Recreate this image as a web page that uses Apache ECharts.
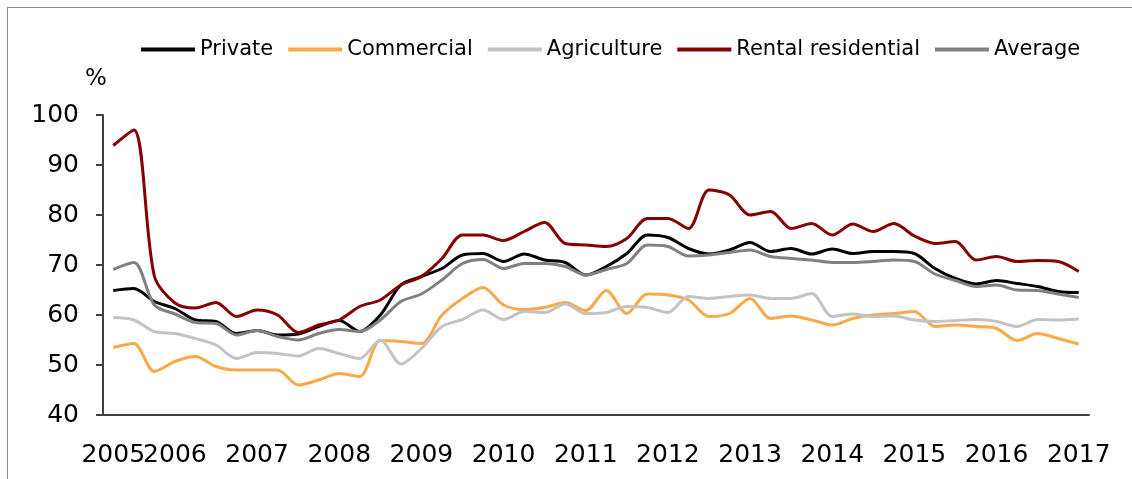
<!DOCTYPE html>
<html>
<head>
<meta charset="utf-8">
<script src="https://cdn.jsdelivr.net/npm/echarts@6/dist/echarts.min.js"></script>
<style>
html, body { margin: 0; padding: 0; background: #fff; overflow: hidden; width: 1132px; height: 479px; }
.frame {
    position: absolute; left: 7px; top: 7px; width: 1130px; height: 480px;
    border-left: 1px solid #8c8c8c; border-top: 1px solid #8c8c8c;
}
#chart { position: absolute; left: 0; top: 0; width: 1132px; height: 479px; }
</style>
</head>
<body>
<div class="frame"></div>
<div id="chart"></div>
<script>
// quarterly, 2005Q2 .. 2017Q1
const categories = [
    '2005Q2','2005Q3','2005Q4',
    '2006Q1','2006Q2','2006Q3','2006Q4',
    '2007Q1','2007Q2','2007Q3','2007Q4',
    '2008Q1','2008Q2','2008Q3','2008Q4',
    '2009Q1','2009Q2','2009Q3','2009Q4',
    '2010Q1','2010Q2','2010Q3','2010Q4',
    '2011Q1','2011Q2','2011Q3','2011Q4',
    '2012Q1','2012Q2','2012Q3','2012Q4',
    '2013Q1','2013Q2','2013Q3','2013Q4',
    '2014Q1','2014Q2','2014Q3','2014Q4',
    '2015Q1','2015Q2','2015Q3','2015Q4',
    '2016Q1','2016Q2','2016Q3','2016Q4',
    '2017Q1'
];

const privateVals = [64.9,65.3,62.7,61.3,59.0,58.7,56.3,56.9,56.0,56.2,57.7,58.9,56.7,60.0,66.0,67.7,
    69.3,72.0,72.3,70.7,72.2,71.0,70.5,68.0,69.7,72.3,76.0,75.5,73.3,72.2,73.0,74.5,
    72.7,73.3,72.2,73.2,72.3,72.7,72.7,72.3,69.3,67.3,66.2,66.9,66.3,65.7,64.7,64.5];
const commercialVals = [53.5,54.3,48.7,50.7,51.7,49.7,49.0,49.0,49.0,46.0,47.0,48.3,47.7,54.9,54.7,54.3,
    60.0,63.3,65.5,62.0,61.1,61.5,62.5,60.9,64.9,60.3,64.2,64.0,63.0,59.7,60.3,63.3,
    59.3,59.8,59.0,58.0,59.3,60.0,60.3,60.7,57.7,58.0,57.7,57.3,54.9,56.3,55.3,54.2];
const agricultureVals = [59.5,59.0,56.7,56.3,55.3,54.0,51.3,52.5,52.3,51.8,53.3,52.3,51.3,55.0,50.2,53.3,
    57.7,59.1,61.0,59.1,60.7,60.5,62.2,60.3,60.5,61.7,61.5,60.5,63.7,63.3,63.7,64.0,
    63.3,63.3,64.3,59.7,60.2,59.7,59.8,59.0,58.7,58.9,59.1,58.7,57.7,59.1,59.0,59.2];
const rentalVals = [93.9,97.0,67.8,62.4,61.4,62.5,59.7,61.0,60.0,56.5,58.0,59.0,61.7,63.0,66.0,67.7,
    71.3,76.0,76.0,74.9,76.7,78.5,74.3,74.0,73.7,75.3,79.3,79.3,77.3,85.0,84.0,80.0,
    80.7,77.3,78.3,76.0,78.2,76.7,78.3,75.8,74.3,74.7,71.0,71.7,70.7,70.9,70.7,68.7];
const averageVals = [69.1,70.5,62.0,60.2,58.5,58.3,56.0,56.9,55.7,55.0,56.3,57.1,56.7,59.0,62.7,64.2,
    67.0,70.3,71.1,69.3,70.3,70.3,69.7,68.0,69.1,70.3,74.0,73.7,71.8,72.0,72.5,73.0,
    71.7,71.3,71.0,70.5,70.5,70.7,71.0,70.7,68.2,66.9,65.7,66.0,65.0,64.9,64.2,63.5];

const seriesNames = ['Private', 'Commercial', 'Agriculture', 'Rental residential', 'Average'];
const seriesColors = ['#000000', '#f9a94a', '#c3c3c3', '#850000', '#808080'];
const seriesData = [privateVals, commercialVals, agricultureVals, rentalVals, averageVals];

const yTicks = { min: 40, max: 100, interval: 10 };

const chart = echarts.init(document.getElementById('chart'));
const font = 'DejaVu Sans, Verdana, sans-serif';
const yearLabel = { fontSize: 25, color: '#000', margin: 28, formatter: val => val.slice(0, 4) };

const option = {
    animation: false,
    textStyle: { fontFamily: font },
    grid: { left: 103, right: 43, top: 115, bottom: 64, containLabel: false },
    legend: {
        left: 141,
        top: 39,
        padding: 0,
        icon: 'rect',
        itemWidth: 54,
        itemHeight: 4,
        itemGap: 15,
        textStyle: { fontSize: 21, color: '#000', fontFamily: font },
        data: seriesNames
    },
    xAxis: [{
        type: 'category',
        data: categories,
        boundaryGap: true,
        axisLine: { lineStyle: { color: '#404040', width: 2 } },
        axisTick: { show: false },
        axisLabel: Object.assign({
            interval: (idx, val) => val.endsWith('Q1')
        }, yearLabel)
    }, {
        // first point carries its own year label, overlapping 2006 as in the original
        type: 'category',
        data: categories,
        position: 'bottom',
        boundaryGap: true,
        axisLine: { show: false },
        axisTick: { show: false },
        axisLabel: Object.assign({
            interval: idx => idx === 0
        }, yearLabel)
    }],
    yAxis: {
        type: 'value',
        min: yTicks.min,
        max: yTicks.max,
        interval: yTicks.interval,
        name: '%',
        nameLocation: 'end',
        nameGap: 24,
        nameTextStyle: { fontSize: 23, color: '#000', align: 'center', padding: [0, 14, 0, 0] },
        splitLine: { show: false },
        axisLine: { show: true, lineStyle: { color: '#404040', width: 2 } },
        axisTick: { show: true, length: 7, lineStyle: { color: '#404040', width: 2 } },
        axisLabel: { fontSize: 25, color: '#000', margin: 24 }
    },
    series: seriesNames.map((name, i) => ({
        name: name,
        type: 'line',
        data: seriesData[i],
        smooth: 0.3,
        symbol: 'none',
        color: seriesColors[i],
        lineStyle: { color: seriesColors[i], width: 3 }
    }))
};

chart.setOption(option);
</script>
</body>
</html>
